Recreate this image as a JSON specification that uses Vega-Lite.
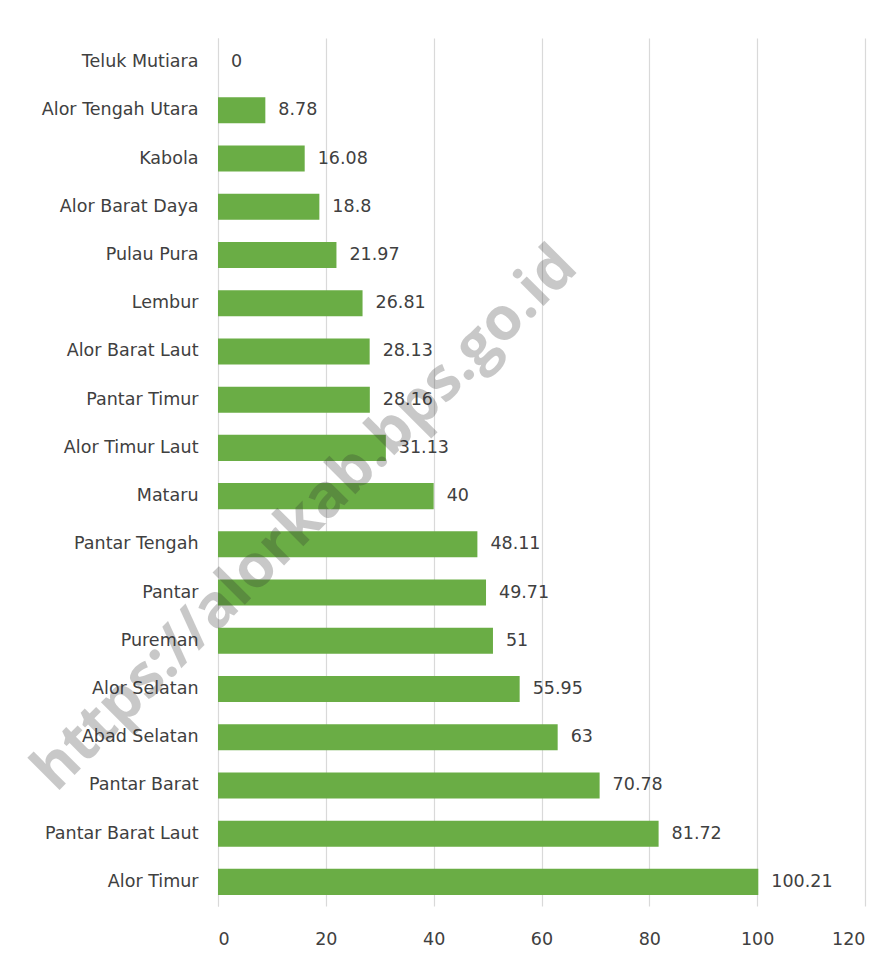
{
  "$schema": "https://vega.github.io/schema/vega-lite/v6.json",
  "width": 647,
  "height": 868,
  "autosize": {"type": "none"},
  "padding": {"left": 218, "top": 38, "right": 30, "bottom": 66},
  "background": "white",
  "config": {
    "view": {"stroke": null},
    "font": "DejaVu Sans",
    "axis": {"labelFont": "DejaVu Sans", "labelColor": "#404040", "labelFontSize": 17.5}
  },
  "layer": [
    {
      "data": {"name": "main", "values": [
        {"kecamatan": "Teluk Mutiara", "nilai": 0},
        {"kecamatan": "Alor Tengah Utara", "nilai": 8.78},
        {"kecamatan": "Kabola", "nilai": 16.08},
        {"kecamatan": "Alor Barat Daya", "nilai": 18.8},
        {"kecamatan": "Pulau Pura", "nilai": 21.97},
        {"kecamatan": "Lembur", "nilai": 26.81},
        {"kecamatan": "Alor Barat Laut", "nilai": 28.13},
        {"kecamatan": "Pantar Timur", "nilai": 28.16},
        {"kecamatan": "Alor Timur Laut", "nilai": 31.13},
        {"kecamatan": "Mataru", "nilai": 40},
        {"kecamatan": "Pantar Tengah", "nilai": 48.11},
        {"kecamatan": "Pantar", "nilai": 49.71},
        {"kecamatan": "Pureman", "nilai": 51},
        {"kecamatan": "Alor Selatan", "nilai": 55.95},
        {"kecamatan": "Abad Selatan", "nilai": 63},
        {"kecamatan": "Pantar Barat", "nilai": 70.78},
        {"kecamatan": "Pantar Barat Laut", "nilai": 81.72},
        {"kecamatan": "Alor Timur", "nilai": 100.21}
      ]},
      "mark": {"type": "bar", "color": "#6aad45"},
      "encoding": {
        "y": {"field": "kecamatan", "type": "nominal", "sort": null,
              "scale": {"paddingInner": 0.46, "paddingOuter": 0.23},
              "axis": {"title": null, "ticks": false, "labelPadding": 20, "domain": true, "domainColor": "#d9d9d9", "grid": false}},
        "x": {"field": "nilai", "type": "quantitative",
              "scale": {"domain": [0, 120], "nice": false},
              "axis": {"title": null, "values": [0, 20, 40, 60, 80, 100, 120], "domain": false, "ticks": false, "labelPadding": 24, "gridColor": "#d9d9d9", "gridWidth": 1.2}}
      }
    },
    {
      "data": {"name": "main"},
      "mark": {"type": "text", "align": "left", "baseline": "middle", "dx": 13, "fontSize": 17.5, "color": "#404040", "font": "DejaVu Sans"},
      "encoding": {
        "y": {"field": "kecamatan", "type": "nominal", "sort": null},
        "x": {"field": "nilai", "type": "quantitative"},
        "text": {"field": "nilai", "type": "quantitative", "format": "~f"}
      }
    },
    {
      "data": {"values": [{"kecamatan": "Mataru", "nilai": 12, "teks": "https://alorkab.bps.go.id"}]},
      "mark": {"type": "text", "angle": 315, "fontSize": 60, "fontWeight": "bold", "color": "#303030", "opacity": 0.26, "font": "Open Sans", "dy": 32, "align": "center", "baseline": "middle"},
      "encoding": {
        "y": {"field": "kecamatan", "type": "nominal", "sort": null},
        "x": {"field": "nilai", "type": "quantitative"},
        "text": {"field": "teks"}
      }
    }
  ]
}
